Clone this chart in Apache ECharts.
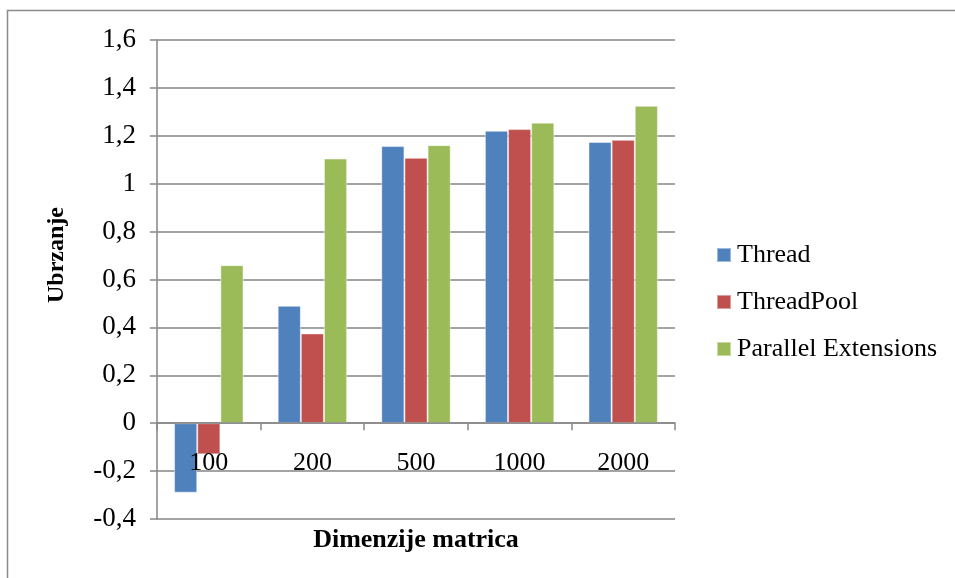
<!DOCTYPE html>
<html>
<head>
<meta charset="utf-8">
<script src="https://cdn.jsdelivr.net/npm/echarts@6/dist/echarts.min.js"></script>
<style>
  html, body { margin: 0; padding: 0; background: #fff; }
  #chart { width: 955px; height: 578px; }
</style>
</head>
<body>
<div id="chart"></div>
<script>
// Matrix dimensions on the category axis
const categories = ['100', '200', '500', '1000', '2000'];

// Speed-up per implementation
const threadValues = [-0.29, 0.49, 1.157, 1.221, 1.174];
const threadPoolValues = [-0.13, 0.375, 1.108, 1.228, 1.183];
const parallelExtValues = [0.66, 1.105, 1.161, 1.255, 1.325];

const seriesNames = ['Thread', 'ThreadPool', 'Parallel Extensions'];
const seriesColors = ['#4F81BD', '#C0504D', '#9BBB59'];

const yTitle = 'Ubrzanje';
const xTitle = 'Dimenzije matrica';

// value axis range
const Y_MIN = -0.4;
const Y_MAX = 1.6;
const Y_STEP = 0.2;

const FONT = '"Liberation Serif", "Times New Roman", serif';
const FS = 26;
const AXIS_GRAY = '#868686';

const GRID = { left: 157, right: 280, top: 40, bottom: 59 };
const CHART_H = 578;

// the category axis sits on the zero line: lift it from the grid bottom
const gridHeight = CHART_H - GRID.top - GRID.bottom;
const zeroLift = gridHeight * (0 - Y_MIN) / (Y_MAX - Y_MIN);

const chart = echarts.init(document.getElementById('chart'), null, { renderer: 'canvas' });

function fmt(v) {
  const r = Math.round(v * 10) / 10;
  return String(r).replace('.', ',');
}

const seriesData = [threadValues, threadPoolValues, parallelExtValues];

chart.setOption({
  backgroundColor: '#ffffff',
  animation: false,
  grid: Object.assign({ containLabel: false }, GRID),
  legend: {
    orient: 'vertical',
    left: 716,
    top: 242,
    padding: 0,
    itemWidth: 14,
    itemHeight: 14,
    itemGap: 21,
    icon: 'rect',
    textStyle: { fontFamily: FONT, fontSize: FS, color: '#000', padding: [0, 0, 0, 1] },
    data: seriesNames
  },
  xAxis: {
    type: 'category',
    data: categories,
    position: 'bottom',
    offset: -zeroLift,
    z: 5,
    axisLine: { onZero: false, lineStyle: { color: AXIS_GRAY, width: 1.5 } },
    axisTick: { show: true, inside: false, length: 7, lineStyle: { color: AXIS_GRAY, width: 1.5 } },
    axisLabel: { fontFamily: FONT, fontSize: FS, color: '#000', margin: 27 },
    splitLine: { show: false }
  },
  yAxis: {
    type: 'value',
    min: Y_MIN,
    max: Y_MAX,
    interval: Y_STEP,
    axisLine: { show: true, lineStyle: { color: AXIS_GRAY, width: 1.5 } },
    axisTick: { show: true, length: 7, lineStyle: { color: AXIS_GRAY, width: 1.5 } },
    axisLabel: { fontFamily: FONT, fontSize: 27, color: '#000', margin: 21, formatter: fmt },
    splitLine: { show: true, lineStyle: { color: AXIS_GRAY, width: 1.5 } }
  },
  graphic: [
    {
      type: 'rect',
      shape: { x: 7.5, y: 10.5, width: 960, height: 600 },
      style: { fill: 'none', stroke: '#8a8a8a', lineWidth: 1.5 },
      silent: true
    },
    {
      type: 'text',
      x: 57,
      y: 255,
      rotation: Math.PI / 2,
      style: {
        text: yTitle,
        fontFamily: FONT,
        fontSize: 24,
        fontWeight: 'bold',
        fill: '#000',
        align: 'center',
        verticalAlign: 'middle'
      }
    },
    {
      type: 'text',
      x: 416,
      y: 540,
      style: {
        text: xTitle,
        fontFamily: FONT,
        fontSize: FS,
        fontWeight: 'bold',
        fill: '#000',
        align: 'center',
        verticalAlign: 'middle'
      }
    }
  ],
  series: seriesNames.map((name, i) => ({
    name: name,
    type: 'bar',
    data: seriesData[i],
    barGap: '0%',
    barCategoryGap: '33%',
    itemStyle: { color: seriesColors[i], borderColor: 'rgba(255,255,255,0.45)', borderWidth: 1 }
  }))
});
</script>
</body>
</html>
